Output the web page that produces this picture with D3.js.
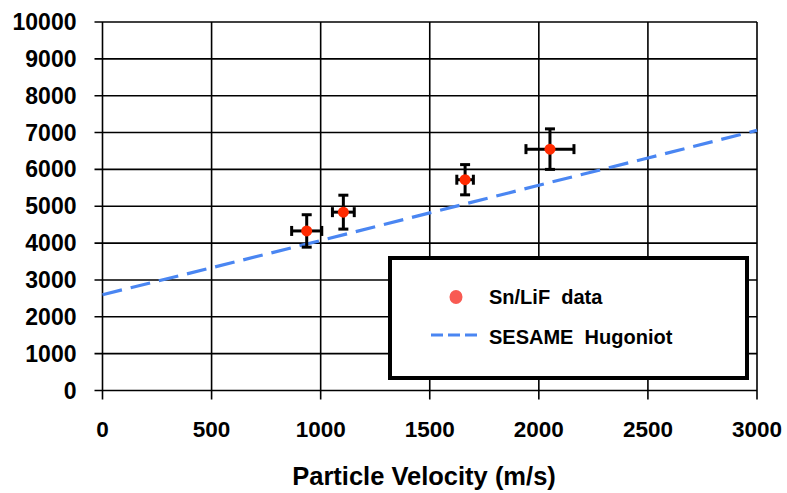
<!DOCTYPE html>
<html>
<head>
<meta charset="utf-8">
<script src="https://cdn.jsdelivr.net/npm/d3@7"></script>
<style>
  body { margin: 0; background: #fff; }
  text { font-family: "Liberation Sans", Arial, sans-serif; font-weight: bold; }
</style>
</head>
<body>
<script>
// Data
const velocity = [936, 1104, 1662, 2051];
const shockVel = [4330, 4840, 5720, 6550];
const velErr = [69, 50, 38, 110];
const shockErr = [440, 460, 410, 550];

const sesameU = [0, 500, 1000, 1500, 2000, 2500, 3000];
const sesameUs = [2600, 3330, 4070, 4820, 5570, 6310, 7060];

const xTicks = [0, 500, 1000, 1500, 2000, 2500, 3000];
const yTicks = [0, 1000, 2000, 3000, 4000, 5000, 6000, 7000, 8000, 9000, 10000];

const W = 787, H = 493;
const margin = { top: 22, right: 30, bottom: 103, left: 102.5 };
const width = 757 - margin.left;
const height = 390.5 - margin.top;

const svg = d3.select("body").append("svg")
  .attr("width", W)
  .attr("height", H);

const g = svg.append("g")
  .attr("transform", `translate(${margin.left},${margin.top})`);

const x = d3.scaleLinear().domain([0, 3000]).range([0, width]);
const y = d3.scaleLinear().domain([0, 10000]).range([height, 0]);

// Grid
g.selectAll(".hgrid").data(yTicks).join("line")
  .attr("x1", -8).attr("x2", width)
  .attr("y1", d => y(d)).attr("y2", d => y(d))
  .attr("stroke", "#000").attr("stroke-width", 1.6);

g.selectAll(".vgrid").data(xTicks).join("line")
  .attr("x1", d => x(d)).attr("x2", d => x(d))
  .attr("y1", 0).attr("y2", height + 9)
  .attr("stroke", "#000").attr("stroke-width", 1.6);

// Tick labels
g.selectAll(".ylab").data(yTicks).join("text")
  .attr("x", -26).attr("y", d => y(d) + 8)
  .attr("text-anchor", "end")
  .style("font-size", "23px")
  .text(d => d);

g.selectAll(".xlab").data(xTicks).join("text")
  .attr("x", d => x(d)).attr("y", height + 46)
  .attr("text-anchor", "middle")
  .style("font-size", "22.5px")
  .text(d => d);

svg.append("text")
  .attr("x", 424).attr("y", 485)
  .attr("text-anchor", "middle")
  .style("font-size", "25.5px")
  .text("Particle Velocity (m/s)");

// SESAME Hugoniot
const line = d3.line()
  .x((d, i) => x(sesameU[i]))
  .y(d => y(d));

g.append("path")
  .datum(sesameUs)
  .attr("fill", "none")
  .attr("stroke", "#4a86f2")
  .attr("stroke-width", 3.2)
  .attr("stroke-dasharray", "20,9")
  .attr("d", line);

// Error bars and points
const pts = velocity.map((v, i) => ({ u: v, us: shockVel[i], du: velErr[i], dus: shockErr[i] }));
const eb = g.selectAll(".eb").data(pts).join("g");
const cap = 5;
eb.append("line")
  .attr("x1", d => x(d.u - d.du)).attr("x2", d => x(d.u + d.du))
  .attr("y1", d => y(d.us)).attr("y2", d => y(d.us))
  .attr("stroke", "#000").attr("stroke-width", 3);
eb.append("line")
  .attr("x1", d => x(d.u)).attr("x2", d => x(d.u))
  .attr("y1", d => y(d.us - d.dus)).attr("y2", d => y(d.us + d.dus))
  .attr("stroke", "#000").attr("stroke-width", 3);
eb.append("line")
  .attr("x1", d => x(d.u - d.du)).attr("x2", d => x(d.u - d.du))
  .attr("y1", d => y(d.us) - cap).attr("y2", d => y(d.us) + cap)
  .attr("stroke", "#000").attr("stroke-width", 3);
eb.append("line")
  .attr("x1", d => x(d.u + d.du)).attr("x2", d => x(d.u + d.du))
  .attr("y1", d => y(d.us) - cap).attr("y2", d => y(d.us) + cap)
  .attr("stroke", "#000").attr("stroke-width", 3);
eb.append("line")
  .attr("x1", d => x(d.u) - cap).attr("x2", d => x(d.u) + cap)
  .attr("y1", d => y(d.us + d.dus)).attr("y2", d => y(d.us + d.dus))
  .attr("stroke", "#000").attr("stroke-width", 3);
eb.append("line")
  .attr("x1", d => x(d.u) - cap).attr("x2", d => x(d.u) + cap)
  .attr("y1", d => y(d.us - d.dus)).attr("y2", d => y(d.us - d.dus))
  .attr("stroke", "#000").attr("stroke-width", 3);
eb.append("circle")
  .attr("cx", d => x(d.u)).attr("cy", d => y(d.us))
  .attr("r", 5.5)
  .attr("fill", "#ff2a00");

// Legend
const lg = svg.append("g");
lg.append("rect")
  .attr("x", 390).attr("y", 258)
  .attr("width", 357).attr("height", 120)
  .attr("fill", "#fff")
  .attr("stroke", "#000").attr("stroke-width", 4);
lg.append("ellipse")
  .attr("cx", 456).attr("cy", 297)
  .attr("rx", 6.5).attr("ry", 7)
  .attr("fill", "#f85a52");
lg.append("text")
  .attr("x", 489).attr("y", 304)
  .style("font-size", "20px")
  .attr("xml:space", "preserve")
  .text("Sn/LiF  data");
lg.append("line")
  .attr("x1", 431).attr("x2", 480)
  .attr("y1", 335).attr("y2", 335)
  .attr("stroke", "#4a86f2").attr("stroke-width", 3)
  .attr("stroke-dasharray", "12,5");
lg.append("text")
  .attr("x", 489).attr("y", 344)
  .style("font-size", "20px")
  .attr("xml:space", "preserve")
  .text("SESAME  Hugoniot");
</script>
</body>
</html>
